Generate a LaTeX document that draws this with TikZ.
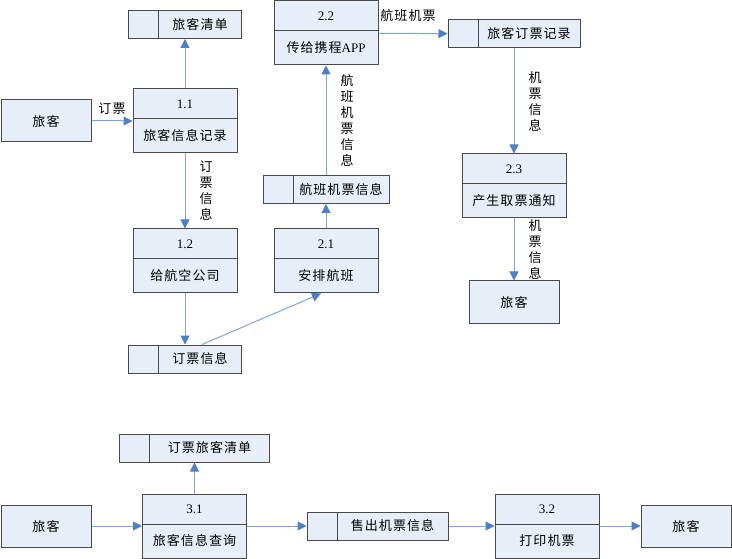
\documentclass[tikz,border=0pt]{standalone}
\usepackage{fontspec}
\setmainfont{Noto Sans CJK SC}[LetterSpace=8]
\newfontfamily\numfont{Liberation Serif}
\usetikzlibrary{positioning, arrows.meta}
\definecolor{boxfill}{HTML}{E8EEF8}
\definecolor{boxline}{HTML}{4A4A4A}
\definecolor{flowline}{HTML}{7FA3DA}
\definecolor{flowhead}{HTML}{4F7EC8}

\begin{document}
\begin{tikzpicture}[x=1pt,y=-1pt,on grid,
    font=\fontsize{13}{16}\selectfont,
    entity/.style={draw=boxline,fill=boxfill,line width=1pt,minimum width=90pt,minimum height=42pt,inner sep=0pt},
    proc/.style={draw=boxline,fill=boxfill,line width=1pt,minimum width=104pt,minimum height=64pt,inner sep=0pt,align=center,
      path picture={\draw[boxline,line width=1pt] ([yshift=-30pt]path picture bounding box.north west) -- ([yshift=-30pt]path picture bounding box.north east);}},
    store/.style={draw=boxline,fill=boxfill,line width=1pt,minimum height=28pt,inner sep=0pt,
      path picture={\draw[boxline,line width=1pt] ([xshift=30pt]path picture bounding box.north west) -- ([xshift=30pt]path picture bounding box.south west);}},
    flow/.style={draw=flowline,line width=1pt,-{Triangle[length=9pt,width=9pt,color=flowhead]}},
    lab/.style={inner sep=1pt},
    vlab/.style={inner sep=1pt,align=center}]
    \useasboundingbox (0,0) rectangle (732,559);

    % booking
    \node[entity] (e1) at (46,121) {旅客};
    \node[proc] (p11) [right=139pt of e1] {{\numfont 1.1}\\[16pt]旅客信息记录};
    \node[store,minimum width=113pt] (s1) [above=96.5pt of p11] {\hspace*{30pt}旅客清单};
    \node[proc] (p12) [below=140pt of p11] {{\numfont 1.2}\\[16pt]给航空公司};
    \node[store,minimum width=113pt] (s2) [below=98pt of p12] {\hspace*{30pt}订票信息};

    % flights
    \node[proc] (p21) [right=141pt of p12] {{\numfont 2.1}\\[16pt]安排航班};
    \node[store,minimum width=126pt] (s3) [above=71.5pt of p21] {\hspace*{30pt}航班机票信息};
    \node[proc] (p22) [above=156.5pt of s3] {{\numfont 2.2}\\[16pt]传给携程{\numfont APP}};
    \node[store,minimum width=132pt] (s4) at (514,34) {\hspace*{30pt}旅客订票记录};
    \node[proc] (p23) [below=152pt of s4] {{\numfont 2.3}\\[16pt]产生取票通知};
    \node[entity] (e2) [below=116pt of p23] {旅客};

    % tickets
    \node[entity] (e3) at (46,526) {旅客};
    \node[proc] (p31) [right=148.5pt of e3] {{\numfont 3.1}\\[16pt]旅客信息查询};
    \node[store,minimum width=150pt] (s5) [above=78pt of p31] {\hspace*{30pt}订票旅客清单};
    \node[store,minimum width=141pt] (s6) [right=183pt of p31] {\hspace*{30pt}售出机票信息};
    \node[proc] (p32) [right=169.5pt of s6] {{\numfont 3.2}\\[16pt]打印机票};
    \node[entity] (e4) [right=139pt of p32] {旅客};

    \path[flow]
    (e1) edge node[lab,above=5pt] {订票} (p11)
    (p11) edge (s1)
    (p11) edge node[vlab,right=13pt] {订\\票\\信\\息} (p12)
    (p12) edge (s2)
    (p21) edge (s3)
    (s3) edge node[vlab,right=13pt] {航\\班\\机\\票\\信\\息} (p22)
    (p22) edge node[lab,above=10pt,xshift=-5pt] {航班机票} (s4)
    (s4) edge node[vlab,right=13pt] {机\\票\\信\\息} (p23)
    (p23) edge node[vlab,right=13pt] {机\\票\\信\\息} (e2)
    (e3) edge (p31)
    (p31) edge (s5)
    (p31) edge (s6)
    (s6) edge (p32)
    (p32) edge (e4)
    ;
    \draw[flow] ([xshift=17pt]s2.north) -- ([xshift=-5pt]p21.south);
\end{tikzpicture}
\end{document}
